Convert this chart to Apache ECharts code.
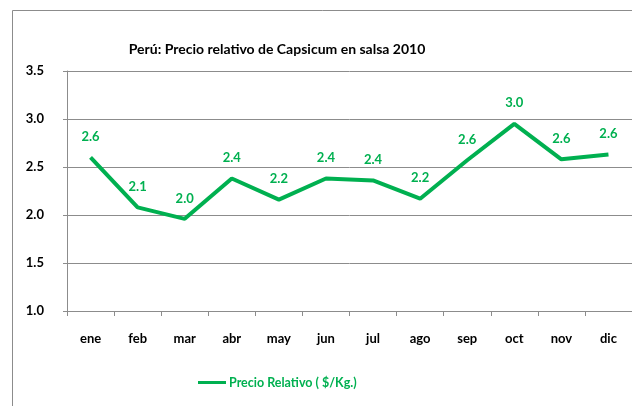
<!DOCTYPE html>
<html>
<head>
<meta charset="utf-8">
<script src="https://cdn.jsdelivr.net/npm/echarts@6/dist/echarts.min.js"></script>
<style>
  html, body { margin: 0; padding: 0; background: #fff; }
  #chart { width: 632px; height: 406px; }
</style>
</head>
<body>
<div id="chart"></div>
<script>
// Monthly relative price of Capsicum sauce, Peru 2010 ($/Kg.)
const months = ['ene', 'feb', 'mar', 'abr', 'may', 'jun', 'jul', 'ago', 'sep', 'oct', 'nov', 'dic'];
const precioRelativo = [2.60, 2.08, 1.96, 2.38, 2.16, 2.38, 2.36, 2.17, 2.57, 2.95, 2.58, 2.63];
const yTicks = { min: 1.0, max: 3.5, step: 0.5 };

const GREEN = '#00B050';
const FONT = 'Lato, "Open Sans", sans-serif';

const chart = echarts.init(document.getElementById('chart'), null, { renderer: 'canvas' });

chart.setOption({
  animation: false,
  backgroundColor: '#ffffff',
  textStyle: { fontFamily: FONT },
  graphic: [
    {
      type: 'polyline',
      silent: true,
      shape: { points: [[12.5, 406], [12.5, 10.5], [632, 10.5]] },
      style: { stroke: '#8c8c8c', lineWidth: 1, fill: null }
    }
  ],
  title: {
    text: 'Perú: Precio relativo de Capsicum en salsa 2010',
    left: 272,
    textAlign: 'center',
    top: 37,
    textStyle: { fontFamily: FONT, fontSize: 14, fontWeight: 'bold', color: '#000' }
  },
  legend: {
    left: 198,
    top: 376,
    padding: 0,
    itemWidth: 28,
    itemHeight: 3,
    itemGap: 4,
    icon: 'rect',
    textStyle: { fontFamily: FONT, fontSize: 12.5, fontWeight: 'bold', color: GREEN, padding: [0, 0, 0, -2] },
    data: ['Precio Relativo ( $/Kg.)']
  },
  grid: { left: 67, right: 0, top: 71, bottom: 95, containLabel: false },
  xAxis: {
    type: 'category',
    data: months,
    boundaryGap: true,
    axisLine: { lineStyle: { color: '#8c8c8c', width: 1 } },
    axisTick: { show: true, length: 5, lineStyle: { color: '#8c8c8c' } },
    axisLabel: { margin: 21, fontFamily: FONT, fontSize: 13, fontWeight: 'bold', color: '#000' }
  },
  yAxis: {
    type: 'value',
    min: yTicks.min,
    max: yTicks.max,
    interval: yTicks.step,
    axisLine: { show: true, lineStyle: { color: '#8c8c8c', width: 1 } },
    axisTick: { show: true, length: 4, lineStyle: { color: '#8c8c8c' } },
    splitLine: { lineStyle: { color: '#8c8c8c', width: 1 } },
    axisLabel: {
      margin: 23,
      fontFamily: FONT, fontSize: 13, fontWeight: 'bold', color: '#000',
      formatter: v => v.toFixed(1)
    }
  },
  series: [
    {
      name: 'Precio Relativo ( $/Kg.)',
      type: 'line',
      data: precioRelativo,
      symbol: 'circle',
      symbolSize: 0,
      showSymbol: true,
      lineStyle: { color: GREEN, width: 4 },
      itemStyle: { color: GREEN },
      label: {
        show: true,
        position: 'top',
        distance: 14,
        fontFamily: FONT, fontSize: 13, fontWeight: 'bold', color: GREEN,
        formatter: p => p.value.toFixed(1)
      }
    }
  ]
});
</script>
</body>
</html>
